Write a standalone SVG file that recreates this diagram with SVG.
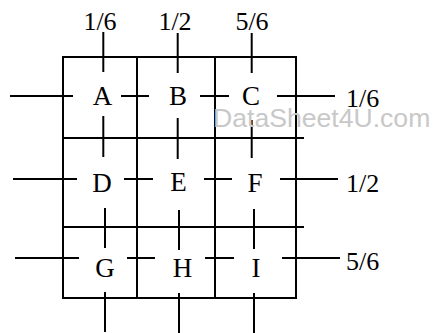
<svg xmlns="http://www.w3.org/2000/svg" width="433" height="333" viewBox="0 0 433 333">
<style>
.ln{stroke:#000;stroke-width:2;fill:none}
.lbl{font-family:"Liberation Serif",serif;font-size:27px;fill:#000;text-anchor:middle}
.num{font-family:"Liberation Serif",serif;font-size:26px;fill:#000}
.wm{font-family:"Liberation Sans",sans-serif;font-size:26.6px;fill:#c8c8c8}
</style>
<rect width="433" height="333" fill="#fff"/>
<g id="grid" class="ln">
<rect x="63" y="57" width="233" height="241"/>
<line x1="137" y1="57" x2="137" y2="298"/>
<line x1="215" y1="57" x2="215" y2="298"/>
<line x1="63" y1="138" x2="304" y2="138"/>
<line x1="63" y1="227" x2="304" y2="227"/>
</g>
<g id="connectors" class="ln">
<line x1="10" y1="96" x2="73" y2="96"/>
<line x1="121" y1="96" x2="149" y2="96"/>
<line x1="200" y1="96" x2="229" y2="96"/>
<line x1="277" y1="96" x2="335" y2="96"/>
<line x1="13" y1="179" x2="77" y2="179"/>
<line x1="124" y1="179" x2="153" y2="179"/>
<line x1="204" y1="179" x2="232" y2="179"/>
<line x1="280" y1="179" x2="338" y2="179"/>
<line x1="15" y1="258" x2="79" y2="258"/>
<line x1="127" y1="258" x2="155" y2="258"/>
<line x1="205" y1="258" x2="234" y2="258"/>
<line x1="282" y1="258" x2="340" y2="258"/>
<line x1="103.3" y1="32" x2="103.3" y2="72"/>
<line x1="103.3" y1="116" x2="103.3" y2="157"/>
<line x1="177.7" y1="33" x2="177.7" y2="73"/>
<line x1="177.7" y1="118" x2="177.7" y2="159"/>
<line x1="251.7" y1="33" x2="251.7" y2="73"/>
<line x1="251.7" y1="120" x2="251.7" y2="158"/>
<line x1="105" y1="208" x2="105" y2="248"/>
<line x1="179" y1="210" x2="179" y2="250"/>
<line x1="254" y1="209" x2="254" y2="249"/>
<line x1="105" y1="292" x2="105" y2="332"/>
<line x1="179" y1="293" x2="179" y2="333"/>
<line x1="254" y1="293" x2="254" y2="333"/>
</g>
<text class="wm" x="213" y="127">DataSheet4U.com</text>
<g id="A"><text class="lbl" x="102.5" y="105">A</text></g>
<g id="B"><text class="lbl" x="178" y="105">B</text></g>
<g id="C"><text class="lbl" x="251" y="105">C</text></g>
<g id="D"><text class="lbl" x="102" y="192">D</text></g>
<g id="E"><text class="lbl" x="178.5" y="191">E</text></g>
<g id="F"><text class="lbl" x="255" y="192">F</text></g>
<g id="G"><text class="lbl" x="105" y="277">G</text></g>
<g id="H"><text class="lbl" x="182.5" y="277">H</text></g>
<g id="I"><text class="lbl" x="256" y="277">I</text></g>
<g id="labels">
<text class="num" x="100" y="30" text-anchor="middle">1/6</text>
<text class="num" x="175" y="30" text-anchor="middle">1/2</text>
<text class="num" x="252" y="30" text-anchor="middle">5/6</text>
<text class="num" x="346" y="107">1/6</text>
<text class="num" x="346" y="192">1/2</text>
<text class="num" x="346" y="270">5/6</text>
</g>
</svg>
